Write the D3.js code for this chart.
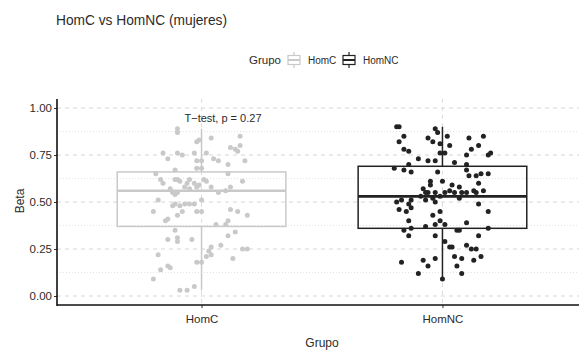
<!DOCTYPE html>
<html>
<head>
<meta charset="utf-8">
<script src="https://cdn.jsdelivr.net/npm/d3@7"></script>
<style>
  body { margin: 0; background: #fff; }
  text { font-family: "Liberation Sans", Arial, sans-serif; }
</style>
</head>
<body>
<script>
const W = 579, H = 351
const margin = ({top: 99, right: -8, bottom: 46, left: 57})

// groups and box stats
const groups = ["HomC", "HomNC"]
const groupColors = ["#c9c9c9", "#222222"]
const boxLow = [0.03, 0.09]
const boxQ1 = [0.37, 0.36]
const boxMedian = [0.56, 0.53]
const boxQ3 = [0.66, 0.69]
const boxHigh = [0.89, 0.90]

// jittered points: beta value + horizontal jitter (category units)
const homC_beta = [0.87,0.89,0.84,0.85,0.82,0.83,0.79,0.78,0.77,0.80,0.76,0.73,0.76,0.75,0.76,0.72,0.76,0.73,0.72,0.70,
  0.72,0.72,0.67,0.68,0.68,0.65,0.62,0.60,0.62,0.62,0.61,0.60,0.62,0.60,0.59,0.62,0.61,0.65,0.61,0.57,
  0.55,0.54,0.55,0.58,0.57,0.58,0.58,0.55,0.56,0.58,0.51,0.48,0.49,0.48,0.49,0.49,0.49,0.51,0.45,0.41,
  0.43,0.45,0.45,0.45,0.46,0.45,0.43,0.40,0.40,0.38,0.38,0.35,0.32,0.34,0.30,0.31,0.29,0.30,0.27,0.26,
  0.24,0.22,0.25,0.25,0.22,0.21,0.18,0.18,0.20,0.16,0.15,0.14,0.09,0.03,0.03,0.05]
const homC_jitter = [-0.10,-0.10,0.04,0.16,-0.02,-0.01,0.12,0.14,0.15,0.16,-0.16,-0.14,-0.10,-0.08,-0.03,-0.02,0.02,0.05,0.07,0.11,
  0.18,0.00,-0.11,-0.02,0.00,-0.19,-0.17,-0.16,-0.11,-0.10,-0.09,-0.06,-0.05,-0.03,-0.01,0.01,0.02,0.11,0.17,-0.13,
  -0.12,-0.11,-0.10,-0.07,-0.05,-0.02,0.04,0.07,0.10,0.12,-0.18,-0.12,-0.11,-0.09,-0.07,-0.05,-0.03,0.00,-0.20,-0.14,
  -0.10,-0.08,-0.02,0.00,0.12,0.15,0.19,0.11,-0.15,0.06,0.10,-0.11,0.11,0.14,-0.14,-0.10,-0.10,-0.04,0.08,0.04,
  0.03,0.04,0.17,0.19,-0.18,0.02,0.00,-0.02,0.13,-0.14,-0.13,-0.17,-0.20,-0.09,-0.06,-0.03]

const homNC_beta = [0.90,0.90,0.85,0.82,0.78,0.77,0.73,0.72,0.84,0.82,0.89,0.87,0.81,0.85,0.80,0.76,0.76,0.72,0.84,0.78,
  0.75,0.80,0.85,0.75,0.76,0.71,0.70,0.68,0.67,0.70,0.66,0.66,0.67,0.64,0.64,0.65,0.65,0.61,0.61,0.60,
  0.59,0.59,0.58,0.56,0.57,0.55,0.55,0.55,0.53,0.55,0.56,0.55,0.55,0.55,0.55,0.56,0.53,0.51,0.52,0.50,
  0.52,0.49,0.50,0.51,0.51,0.49,0.46,0.45,0.47,0.45,0.43,0.45,0.40,0.38,0.40,0.38,0.39,0.35,0.36,0.37,
  0.35,0.35,0.36,0.32,0.32,0.32,0.29,0.26,0.26,0.27,0.25,0.25,0.21,0.20,0.20,0.19,0.16,0.19,0.21,0.18,
  0.16,0.12,0.12,0.09]
const homNC_jitter = [-0.19,-0.18,-0.16,-0.18,-0.16,-0.14,-0.10,-0.06,-0.06,-0.04,-0.03,-0.02,-0.01,0.02,0.03,-0.01,0.01,-0.03,0.11,0.12,
  0.10,0.15,0.17,0.19,0.20,0.05,0.10,-0.20,-0.16,-0.14,-0.13,-0.02,0.10,0.11,0.14,0.16,0.19,-0.05,0.00,0.15,
  -0.05,0.04,0.07,0.13,-0.08,-0.07,-0.06,-0.03,-0.01,0.01,0.03,0.05,0.08,0.10,0.14,0.17,-0.09,-0.07,-0.04,-0.03,
  0.07,0.15,-0.19,-0.17,-0.13,-0.14,-0.18,-0.15,-0.13,-0.01,-0.04,0.19,-0.14,-0.03,-0.01,0.01,0.10,-0.16,-0.13,-0.07,
  0.06,0.07,0.19,-0.14,-0.03,0.15,0.01,0.03,0.04,0.10,0.12,0.14,0.05,0.08,-0.03,-0.08,-0.06,0.13,0.16,-0.17,
  0.06,0.08,-0.10,0.00]

const pointsBeta = [homC_beta, homNC_beta]
const pointsJitter = [homC_jitter, homNC_jitter]

const yTicks = [0, 0.25, 0.5, 0.75, 1]
const yMinor = [0.125, 0.375, 0.625, 0.875]
const testLabel = "T\u2212test, p = 0.27"

const svg = d3.select("body").append("svg")
  .attr("width", W)
  .attr("height", H)

const x = d3.scaleLinear()
  .domain([0.4, 2.6])
  .range([margin.left, W - margin.right])

const y = d3.scaleLinear()
  .domain([0, 1])
  .range([296, 108])

const panelTop = margin.top
const panelBottom = H - margin.bottom

// gridlines
const grid = svg.append("g")
grid.selectAll(".minor").data(yMinor).join("line")
  .attr("x1", margin.left).attr("x2", W)
  .attr("y1", d => y(d)).attr("y2", d => y(d))
  .attr("stroke", "#e3e3e3").attr("stroke-width", 1)
  .attr("stroke-dasharray", "1,2")
grid.selectAll(".major").data(yTicks).join("line")
  .attr("x1", margin.left).attr("x2", W)
  .attr("y1", d => y(d)).attr("y2", d => y(d))
  .attr("stroke", "#d6d6d6").attr("stroke-width", 1)
  .attr("stroke-dasharray", "4,4")
grid.selectAll(".vmajor").data(groups).join("line")
  .attr("x1", (d, i) => x(i + 1)).attr("x2", (d, i) => x(i + 1))
  .attr("y1", panelTop).attr("y2", panelBottom)
  .attr("stroke", "#dcdcdc").attr("stroke-width", 1)
  .attr("stroke-dasharray", "4,4")

// boxplots
const halfW = 0.35
groups.forEach((g, i) => {
  const c = groupColors[i]
  const cx = x(i + 1)
  const bx = svg.append("g")
  bx.append("line")
    .attr("x1", cx).attr("x2", cx)
    .attr("y1", y(boxQ3[i])).attr("y2", y(boxHigh[i]))
    .attr("stroke", c).attr("stroke-width", 1.5)
  bx.append("line")
    .attr("x1", cx).attr("x2", cx)
    .attr("y1", y(boxQ1[i])).attr("y2", y(boxLow[i]))
    .attr("stroke", c).attr("stroke-width", 1.5)
  bx.append("rect")
    .attr("x", x(i + 1 - halfW))
    .attr("width", x(i + 1 + halfW) - x(i + 1 - halfW))
    .attr("y", y(boxQ3[i]))
    .attr("height", y(boxQ1[i]) - y(boxQ3[i]))
    .attr("fill", "none")
    .attr("stroke", c).attr("stroke-width", 1.5)
  bx.append("line")
    .attr("x1", x(i + 1 - halfW)).attr("x2", x(i + 1 + halfW))
    .attr("y1", y(boxMedian[i])).attr("y2", y(boxMedian[i]))
    .attr("stroke", c).attr("stroke-width", 2.6)

  svg.append("g").selectAll("circle")
    .data(pointsBeta[i])
    .join("circle")
    .attr("cx", (d, k) => x(i + 1 + pointsJitter[i][k]))
    .attr("cy", d => y(d))
    .attr("r", 2.5)
    .attr("fill", c)
})

// axes
const yAxis = svg.append("g")
  .attr("transform", `translate(${margin.left},0)`)
  .call(d3.axisLeft(y).tickValues(yTicks).tickFormat(d3.format(".2f")).tickSize(3).tickSizeOuter(0))
yAxis.select(".domain").remove()
yAxis.append("line")
  .attr("x1", 0).attr("x2", 0)
  .attr("y1", panelTop).attr("y2", panelBottom + 1)
  .attr("stroke", "#111").attr("stroke-width", 1.6)
yAxis.selectAll(".tick line").attr("stroke", "#333")
yAxis.selectAll(".tick text")
  .attr("x", -5)
  .style("font-size", "11.5px")
  .attr("fill", "#2b2b2b")

const xAxis = svg.append("g")
  .attr("transform", `translate(0,${panelBottom})`)
  .call(d3.axisBottom(x).tickValues([1, 2]).tickFormat(d => groups[d - 1]).tickSize(3).tickSizeOuter(0))
xAxis.select(".domain").remove()
xAxis.append("line")
  .attr("x1", margin.left).attr("x2", W)
  .attr("stroke", "#111").attr("stroke-width", 1.6)
xAxis.selectAll(".tick line").attr("stroke", "#333")
xAxis.selectAll(".tick text")
  .attr("y", 10)
  .style("font-size", "11.5px")
  .attr("fill", "#2b2b2b")

// axis titles
svg.append("text")
  .attr("x", x(1.5)).attr("y", 347)
  .attr("text-anchor", "middle")
  .style("font-size", "12px").attr("fill", "#2b2b2b")
  .text("Grupo")

svg.append("text")
  .attr("transform", `translate(24,${(panelTop + panelBottom) / 2 - 1}) rotate(-90)`)
  .attr("text-anchor", "middle")
  .style("font-size", "12px").attr("fill", "#2b2b2b")
  .text("Beta")

// p-value annotation
svg.append("text")
  .attr("x", 223).attr("y", 122)
  .attr("text-anchor", "middle")
  .style("font-size", "11.5px").attr("fill", "#2b2b2b")
  .attr("textLength", 77).attr("lengthAdjust", "spacingAndGlyphs")
  .text(testLabel)

// title
svg.append("text")
  .attr("x", 56).attr("y", 25)
  .style("font-size", "15px").attr("fill", "#2b2b2b")
  .attr("textLength", 171).attr("lengthAdjust", "spacingAndGlyphs")
  .text("HomC vs HomNC (mujeres)")

// legend
const legend = svg.append("g")
legend.append("text")
  .attr("x", 249).attr("y", 64)
  .style("font-size", "11.5px").attr("fill", "#2b2b2b")
  .text("Grupo")
const keyX = [287, 342]
const labX = [308, 363]
groups.forEach((g, i) => {
  const c = groupColors[i]
  const k = legend.append("g").attr("transform", `translate(${keyX[i]},52)`)
  k.append("line").attr("x1", 7).attr("x2", 7).attr("y1", 0).attr("y2", 16)
    .attr("stroke", c).attr("stroke-width", 1.2)
  k.append("rect").attr("x", 1).attr("y", 3.5).attr("width", 12).attr("height", 9)
    .attr("fill", "#fff").attr("stroke", c).attr("stroke-width", 1.2)
  k.append("line").attr("x1", 1).attr("x2", 13).attr("y1", 8).attr("y2", 8)
    .attr("stroke", c).attr("stroke-width", 2)
  legend.append("text")
    .attr("x", labX[i]).attr("y", 64)
    .style("font-size", "10px").attr("fill", "#2b2b2b")
    .text(g)
})
</script>
</body>
</html>
